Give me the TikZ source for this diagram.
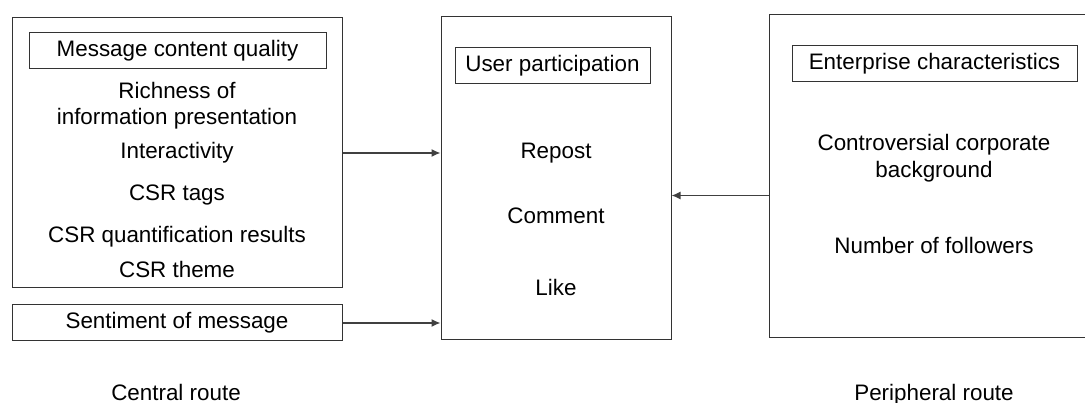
\documentclass[tikz,border=0pt]{standalone}
\usepackage{fontspec}
\setmainfont{Liberation Sans}
\usetikzlibrary{arrows.meta}
\tikzset{
  box/.style={draw=black!80, line width=1pt, inner sep=0pt},
  txt/.style={font=\fontsize{22.4}{26}\selectfont, text height=16pt, text depth=4pt, inner sep=0pt},
  link/.style={-{Latex[length=9pt,width=8pt]}, line width=1.3pt, black!75}
}
\begin{document}
\begin{tikzpicture}[x=1pt,y=-1pt]
        \useasboundingbox (0,0) rectangle (1085,403);
        % outer boxes
        \node[box, minimum width=330pt, minimum height=270pt] (content) at (177,153) {};
        \node[box, txt, minimum width=330pt, minimum height=36pt] (sentiment) at (177,323) {Sentiment of message};
        \node[box, minimum width=230pt, minimum height=323pt] (participation) at (556,178.5) {};
        \node[box, minimum width=326pt, minimum height=323pt] (enterprise) at (932,176.5) {};
        % title boxes
        \node[box, txt, minimum width=297pt, minimum height=36pt] (contenttitle) at (177.5,51) {Message content quality};
        \node[box, txt, minimum width=195pt, minimum height=36pt] (participationtitle) at (552.5,66) {User participation};
        \node[box, txt, minimum width=285pt, minimum height=36pt] (enterprisetitle) at (934.5,64) {Enterprise characteristics};
        % message content items
        \node[txt] (richness) at (177,93) {Richness of};
        \node[txt] (presentation) at (177,119) {information presentation};
        \node[txt] (interactivity) at (177,153) {Interactivity};
        \node[txt] (tags) at (177,195) {CSR tags};
        \node[txt] (quantification) at (177,237) {CSR quantification results};
        \node[txt] (theme) at (177,272) {CSR theme};
        % participation items
        \node[txt] (repost) at (556,153) {Repost};
        \node[txt] (comment) at (556,218) {Comment};
        \node[txt] (like) at (556,290) {Like};
        % enterprise items
        \node[txt] (controversial) at (934,145) {Controversial corporate};
        \node[txt] (background) at (934,172) {background};
        \node[txt] (followers) at (934,248) {Number of followers};
        % routes
        \node[txt] (central) at (176,394) {Central route};
        \node[txt] (peripheral) at (934,394) {Peripheral route};
        % arrows
        \draw[link] (content.east) -- (participation.west |- content.east);
        \draw[link] (sentiment.east) -- (participation.west |- sentiment.east);
        \draw[link] ([yshift=-19pt]enterprise.west) -- ([yshift=-17pt]participation.east);
\end{tikzpicture}
\end{document}
